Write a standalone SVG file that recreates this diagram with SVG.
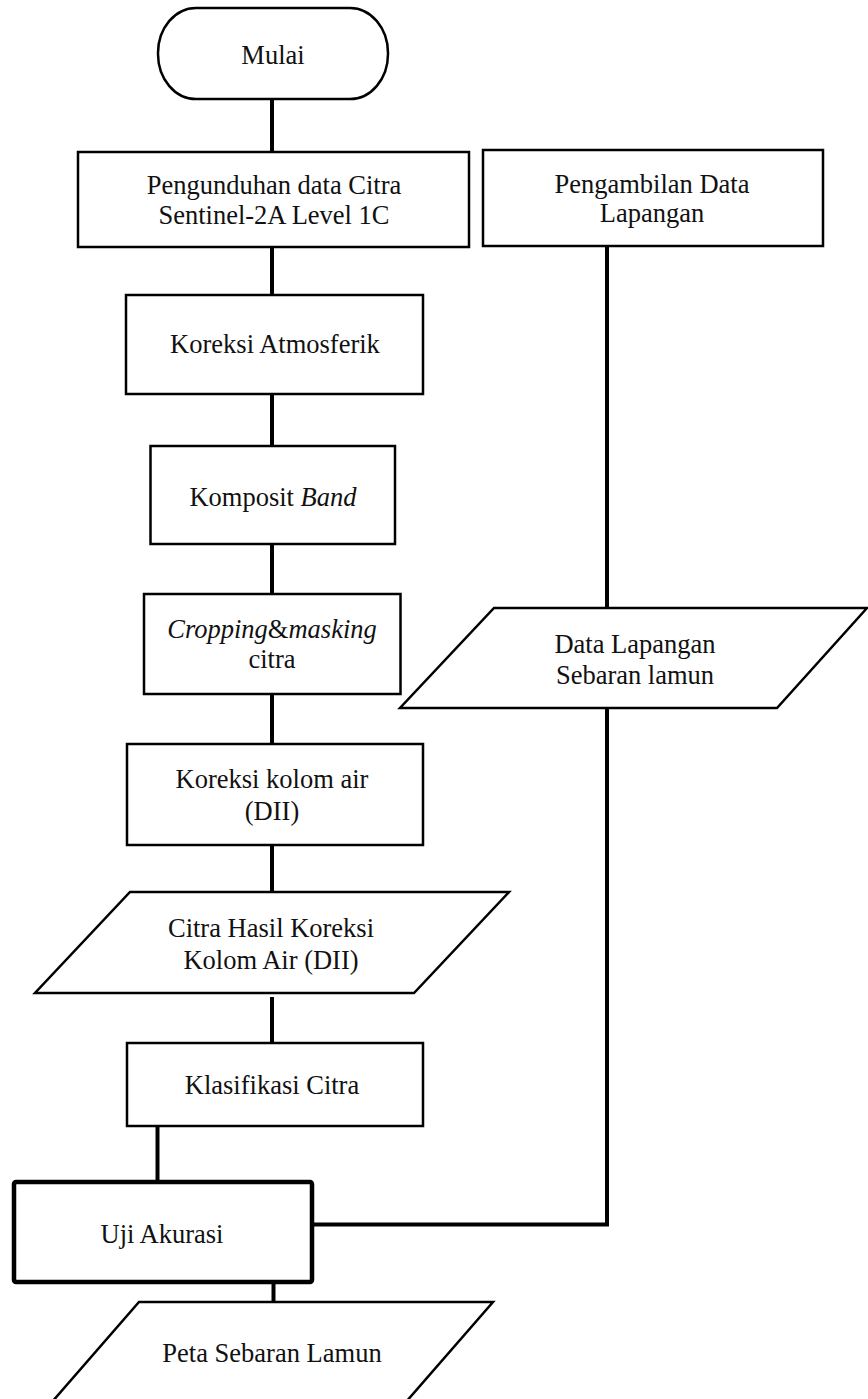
<svg xmlns="http://www.w3.org/2000/svg" width="868" height="1399" viewBox="0 0 868 1399">
<style>
.s{fill:#fff;stroke:#000;stroke-width:2.5}
.t{font-size:26.5px;fill:#111;text-anchor:middle}
.c{fill:none;stroke:#000;stroke-width:4}
</style>
<rect width="868" height="1399" fill="#fff"/>
<g id="connectors">
<line class="c" x1="272" y1="99" x2="272" y2="152"/>
<line class="c" x1="272" y1="247" x2="272" y2="295"/>
<line class="c" x1="272" y1="394" x2="272" y2="446"/>
<line class="c" x1="272" y1="544" x2="272" y2="594"/>
<line class="c" x1="272" y1="694" x2="272" y2="744"/>
<line class="c" x1="272" y1="845" x2="272" y2="892"/>
<line class="c" x1="272" y1="997" x2="272" y2="1043"/>
<line class="c" x1="157.5" y1="1126" x2="157.5" y2="1182"/>
<line class="c" x1="273.5" y1="1282" x2="273.5" y2="1302"/>
<line class="c" x1="607" y1="246" x2="607" y2="608"/>
<polyline class="c" points="312,1224.5 607,1224.5 607,708"/>
</g>
<g font-family="Liberation Serif, Tinos, Times New Roman, DejaVu Serif, serif">
<g id="mulai">
<rect class="s" x="158" y="8" width="230" height="91" rx="38" ry="45"/>
<text class="t" x="273" y="64">Mulai</text>
</g>
<g id="pengunduhan">
<rect class="s" x="78" y="152" width="391" height="95"/>
<text class="t" x="274" y="194">Pengunduhan data Citra</text>
<text class="t" x="274" y="224">Sentinel-2A Level 1C</text>
</g>
<g id="koreksi-atmosferik">
<rect class="s" x="126" y="295" width="297" height="99"/>
<text class="t" x="275" y="353">Koreksi Atmosferik</text>
</g>
<g id="komposit-band">
<rect class="s" x="150.5" y="446" width="244.5" height="98"/>
<text class="t" x="273" y="506">Komposit <tspan font-style="italic">Band</tspan></text>
</g>
<g id="cropping">
<rect class="s" x="144" y="594" width="256.5" height="100"/>
<text class="t" x="272" y="638"><tspan font-style="italic">Cropping</tspan>&amp;<tspan font-style="italic">masking</tspan></text>
<text class="t" x="272" y="668">citra</text>
</g>
<g id="koreksi-kolom-air">
<rect class="s" x="127" y="744" width="296" height="101"/>
<text class="t" x="272" y="788">Koreksi kolom air</text>
<text class="t" x="272" y="820">(DII)</text>
</g>
<g id="citra-hasil">
<polygon class="s" points="130,892 509,892 414,993 35,993"/>
<text class="t" x="271" y="937">Citra Hasil Koreksi</text>
<text class="t" x="271" y="969">Kolom Air (DII)</text>
</g>
<g id="klasifikasi">
<rect class="s" x="127" y="1043" width="296" height="83"/>
<text class="t" x="272" y="1094">Klasifikasi Citra</text>
</g>
<g id="uji-akurasi">
<rect class="s" x="14" y="1182" width="298" height="100" rx="2" style="stroke-width:4.5"/>
<text class="t" x="162" y="1243">Uji Akurasi</text>
</g>
<g id="peta">
<polygon class="s" points="139,1302 493,1302 399,1410 45,1410"/>
<text class="t" x="272" y="1362">Peta Sebaran Lamun</text>
</g>
<g id="pengambilan">
<rect class="s" x="483" y="150" width="340" height="96"/>
<text class="t" x="652" y="193">Pengambilan Data</text>
<text class="t" x="652" y="222">Lapangan</text>
</g>
<g id="data-lapangan">
<polygon class="s" points="494,608 867,608 777,708 400,708"/>
<text class="t" x="635" y="653">Data Lapangan</text>
<text class="t" x="635" y="684">Sebaran lamun</text>
</g>
</g>
</svg>
